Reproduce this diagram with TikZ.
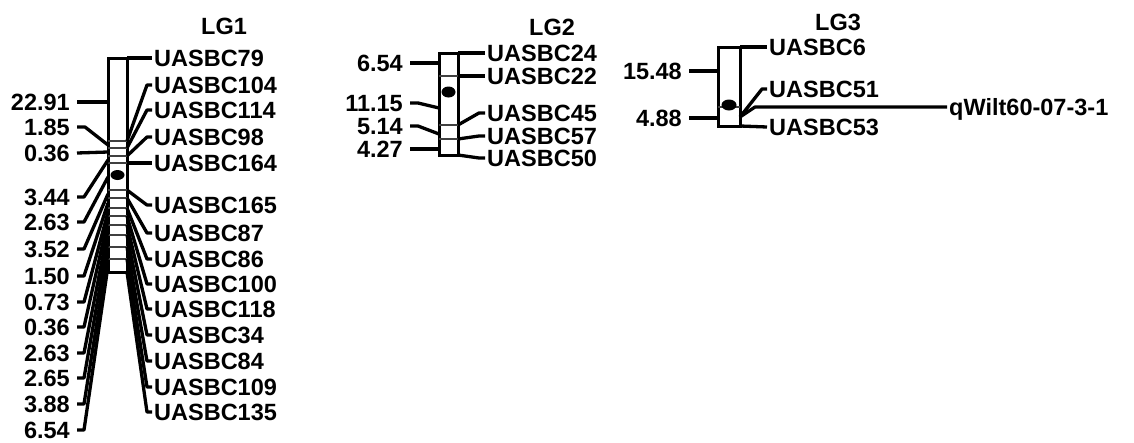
\documentclass[tikz,border=0pt]{standalone}
\usepackage{fontspec}
\setmainfont{Liberation Sans}
\newcommand\mapfont{\fontsize{23.5}{25}\selectfont\bfseries}
\tikzset{
  chrom/.style={line width=3pt},
  band/.style={line width=2pt, black!75},
  cent/.style={fill=black},
  link/.style={line width=3.3pt, line join=round},
  loc/.style={font=\mapfont, anchor=west, inner xsep=2pt, inner ysep=0pt, text height=16.8pt, text depth=0pt},
  dist/.style={font=\mapfont, anchor=east, inner xsep=7pt, inner ysep=0pt, text height=16.8pt, text depth=0pt},
  lgname/.style={font=\mapfont}
}
\begin{document}
\begin{tikzpicture}[x=1pt, y=-1pt]
  \useasboundingbox (0,0) rectangle (1134,442);

  % LG1
  \node[lgname] (lg1) at (224,26) {LG1};
  \draw[chrom] (108,58) rectangle (127,272);
  \draw[band] (108,141) -- (127,141) (108,148) -- (127,148) (108,156) -- (127,156)
    (108,163) -- (127,163) (108,190) -- (127,190) (108,198) -- (127,198)
    (108,208) -- (127,208) (108,216) -- (127,216) (108,225) -- (127,225)
    (108,235) -- (127,235) (108,247) -- (127,247) (108,259) -- (127,259);
  \fill[cent] (117.5,175) ellipse (7 and 5);

  \coordinate (m79) at (127,58);
  \coordinate (m104) at (127,141);
  \coordinate (m114) at (127,148);
  \coordinate (m98) at (127,156);
  \coordinate (m164) at (127,163);
  \coordinate (m165) at (127,190);
  \coordinate (m87) at (127,198);
  \coordinate (m86) at (127,208);
  \coordinate (m100) at (127,216);
  \coordinate (m118) at (127,225);
  \coordinate (m34) at (127,235);
  \coordinate (m84) at (127,247);
  \coordinate (m109) at (127,259);
  \coordinate (m135) at (127,272);

  \node[loc] (l79) at (152,58) {UASBC79};
  \node[loc] (l104) at (152,85) {UASBC104};
  \node[loc] (l114) at (152,110) {UASBC114};
  \node[loc] (l98) at (152,137) {UASBC98};
  \node[loc] (l164) at (152,163) {UASBC164};
  \node[loc] (l165) at (152,205) {UASBC165};
  \node[loc] (l87) at (152,233) {UASBC87};
  \node[loc] (l86) at (152,259) {UASBC86};
  \node[loc] (l100) at (152,284) {UASBC100};
  \node[loc] (l118) at (152,309) {UASBC118};
  \node[loc] (l34) at (152,335) {UASBC34};
  \node[loc] (l84) at (152,361) {UASBC84};
  \node[loc] (l109) at (152,387) {UASBC109};
  \node[loc] (l135) at (152,412) {UASBC135};

  \draw[link] (m79) -- (l79.west);
  \draw[link] (m104) -- ([xshift=-5pt]l104.west) -- (l104.west);
  \draw[link] (m114) -- ([xshift=-5pt]l114.west) -- (l114.west);
  \draw[link] (m98) -- ([xshift=-5pt]l98.west) -- (l98.west);
  \draw[link] (m164) -- (l164.west);
  \draw[link] (m165) -- ([xshift=-5pt]l165.west) -- (l165.west);
  \draw[link] (m87) -- ([xshift=-5pt]l87.west) -- (l87.west);
  \draw[link] (m86) -- ([xshift=-5pt]l86.west) -- (l86.west);
  \draw[link] (m100) -- ([xshift=-5pt]l100.west) -- (l100.west);
  \draw[link] (m118) -- ([xshift=-5pt]l118.west) -- (l118.west);
  \draw[link] (m34) -- ([xshift=-5pt]l34.west) -- (l34.west);
  \draw[link] (m84) -- ([xshift=-5pt]l84.west) -- (l84.west);
  \draw[link] (m109) -- ([xshift=-5pt]l109.west) -- (l109.west);
  \draw[link] (m135) -- ([xshift=-5pt]l135.west) -- (l135.west);

  \coordinate (g1) at (108,102);
  \coordinate (g2) at (108,145);
  \coordinate (g3) at (108,152);
  \coordinate (g4) at (108,160);
  \coordinate (g5) at (108,177);
  \coordinate (g6) at (108,194);
  \coordinate (g7) at (108,203);
  \coordinate (g8) at (108,212);
  \coordinate (g9) at (108,220);
  \coordinate (g10) at (108,230);
  \coordinate (g11) at (108,241);
  \coordinate (g12) at (108,253);
  \coordinate (g13) at (108,266);

  \node[dist] (d1) at (77,102) {22.91};
  \node[dist] (d2) at (77,127) {1.85};
  \node[dist] (d3) at (77,153) {0.36};
  \node[dist] (d4) at (77,197) {3.44};
  \node[dist] (d5) at (77,222) {2.63};
  \node[dist] (d6) at (77,249) {3.52};
  \node[dist] (d7) at (77,276) {1.50};
  \node[dist] (d8) at (77,302) {0.73};
  \node[dist] (d9) at (77,327) {0.36};
  \node[dist] (d10) at (77,353) {2.63};
  \node[dist] (d11) at (77,378) {2.65};
  \node[dist] (d12) at (77,404) {3.88};
  \node[dist] (d13) at (77,430) {6.54};

  \draw[link] (d1.east) -- (g1);
  \draw[link] (d2.east) -- ++(8,0) -- (g2);
  \draw[link] (d3.east) -- (g3);
  \draw[link] (d4.east) -- ++(7,0) -- (g4);
  \draw[link] (d5.east) -- ++(7,0) -- (g5);
  \draw[link] (d6.east) -- ++(7,0) -- (g6);
  \draw[link] (d7.east) -- ++(7,0) -- (g7);
  \draw[link] (d8.east) -- ++(7,0) -- (g8);
  \draw[link] (d9.east) -- ++(7,0) -- (g9);
  \draw[link] (d10.east) -- ++(7,0) -- (g10);
  \draw[link] (d11.east) -- ++(7,0) -- (g11);
  \draw[link] (d12.east) -- ++(7,0) -- (g12);
  \draw[link] (d13.east) -- ++(7,0) -- (g13);

  % LG2
  \node[lgname] (lg2) at (552,27) {LG2};
  \draw[chrom] (439,53) rectangle (458,155);
  \draw[band] (439,76) -- (458,76) (439,125) -- (458,125) (439,139) -- (458,139);
  \fill[cent] (448.5,92) ellipse (7 and 5.5);

  \coordinate (m24) at (458,53);
  \coordinate (m22) at (458,76);
  \coordinate (m45) at (458,125);
  \coordinate (m57) at (458,139);
  \coordinate (m50) at (458,155);

  \node[loc] (l24) at (485,53) {UASBC24};
  \node[loc] (l22) at (485,76) {UASBC22};
  \node[loc] (l45) at (485,113) {UASBC45};
  \node[loc] (l57) at (485,136) {UASBC57};
  \node[loc] (l50) at (485,158) {UASBC50};

  \draw[link] (m24) -- (l24.west);
  \draw[link] (m22) -- (l22.west);
  \draw[link] (m45) -- ([xshift=-6pt]l45.west) -- (l45.west);
  \draw[link] (m57) -- ([xshift=-6pt]l57.west) -- (l57.west);
  \draw[link] (m50) -- ([xshift=-6pt]l50.west) -- (l50.west);

  \coordinate (g14) at (439,63);
  \coordinate (g15) at (439,108);
  \coordinate (g16) at (439,134);
  \coordinate (g17) at (439,149);

  \node[dist] (d14) at (410,63) {6.54};
  \node[dist] (d15) at (410,103) {11.15};
  \node[dist] (d16) at (410,126) {5.14};
  \node[dist] (d17) at (410,149) {4.27};

  \draw[link] (d14.east) -- (g14);
  \draw[link] (d15.east) -- ++(8,0) -- (g15);
  \draw[link] (d16.east) -- ++(8,0) -- (g16);
  \draw[link] (d17.east) -- (g17);

  % LG3
  \node[lgname] (lg3) at (838,22) {LG3};
  \draw[chrom] (718,47) rectangle (740,126);
  \draw[band] (718,107) -- (740,107);
  \fill[cent] (729,105) ellipse (7.5 and 5.5);

  \coordinate (m6) at (740,47);
  \coordinate (m51) at (740,117);
  \coordinate (m53) at (740,126);
  \coordinate (qbend) at (755,107);

  \node[loc] (l6) at (767,47) {UASBC6};
  \node[loc] (l51) at (767,89) {UASBC51};
  \node[loc] (l53) at (767,127) {UASBC53};
  \node[loc] (qtl) at (947,107) {qWilt60-07-3-1};

  \draw[link] (m6) -- (l6.west);
  \draw[link] (m51) -- ([xshift=-5pt]l51.west) -- (l51.west);
  \draw[link] (m51) -- (qbend) -- (qtl.west);
  \draw[link] (m53) -- (l53.west);

  \coordinate (g18) at (718,71);
  \coordinate (g19) at (718,118);

  \node[dist] (d18) at (689,71) {15.48};
  \node[dist] (d19) at (689,118) {4.88};

  \draw[link] (d18.east) -- (g18);
  \draw[link] (d19.east) -- (g19);
\end{tikzpicture}
\end{document}
